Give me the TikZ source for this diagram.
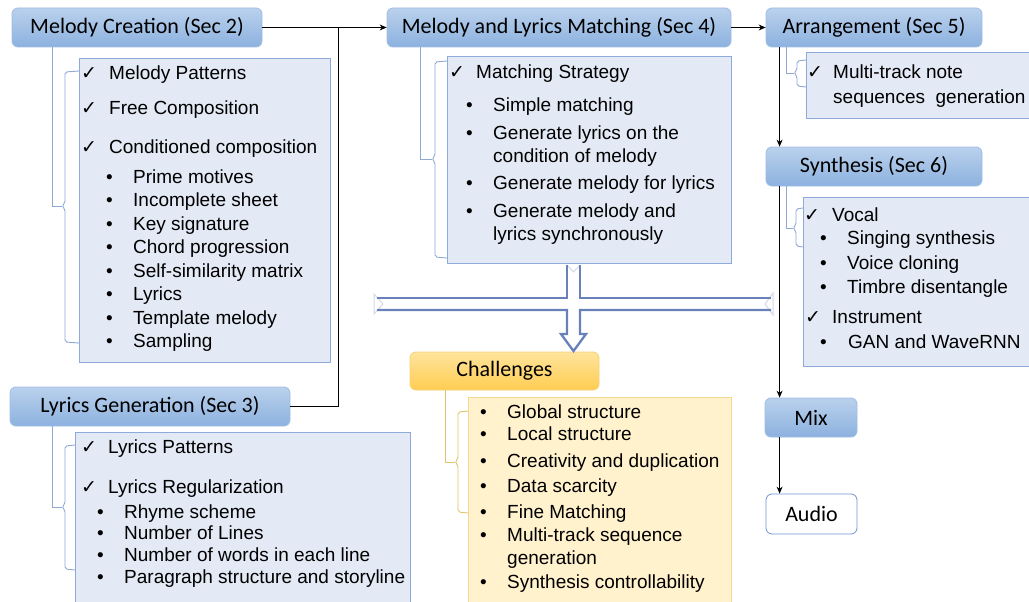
\documentclass[tikz,border=0pt]{standalone}
\usepackage{fontspec}
\setmainfont{Liberation Sans}
\newfontfamily\hdrfont{Carlito}
\newfontfamily\symfont{DejaVu Sans}
\usetikzlibrary{arrows.meta,calc}
\definecolor{hdrtop}{HTML}{BAD1EC}
\definecolor{hdrbot}{HTML}{8CB1DF}
\definecolor{hdrline}{HTML}{9FBDE5}
\definecolor{bodyfill}{HTML}{E3E9F5}
\definecolor{bodyline}{HTML}{8EAADB}
\definecolor{brcblue}{HTML}{8FA8D6}
\definecolor{chtop}{HTML}{FFE49C}
\definecolor{chbot}{HTML}{FFCD52}
\definecolor{chline}{HTML}{F6D37A}
\definecolor{chfill}{HTML}{FFF2CC}
\definecolor{chbody}{HTML}{F5D991}
\definecolor{brcgold}{HTML}{E2C46A}
\definecolor{dblue}{HTML}{6882B9}
\definecolor{notchc}{HTML}{D3DAE8}
\definecolor{audline}{HTML}{6F95D6}
\begin{document}
\begin{tikzpicture}[x=1pt,y=-1pt,
  hdr/.style={draw=hdrline, line width=0.8pt, rounded corners=6pt, top color=hdrtop, bottom color=hdrbot,
    font=\hdrfont\fontsize{22}{26}\selectfont, inner sep=0pt},
  chhdr/.style={hdr, draw=chline, top color=chtop, bottom color=chbot},
  body/.style={draw=bodyline, line width=0.8pt, fill=bodyfill, anchor=north west, inner sep=0pt},
  chbox/.style={body, draw=chbody, fill=chfill},
  item/.style={anchor=base west, inner sep=0pt, font=\fontsize{19}{22}\selectfont},
  bul/.style={anchor=base west, inner sep=0pt, font=\fontsize{19}{22}\selectfont},
  chk/.style={anchor=base west, inner sep=0pt, font=\symfont\bfseries\fontsize{19}{22}\selectfont},
  brc/.style={draw=brcblue, line width=0.9pt},
  brcg/.style={draw=brcgold, line width=0.9pt},
  conn/.style={draw=black, line width=0.9pt},
  arr/.style={conn, -{Stealth[length=7pt,width=6pt]}},
  dbl/.style={draw=dblue, line width=2.3pt},
  notch/.style={draw=notchc, line width=1pt}
]
\clip (0,0) rectangle (1029,602);
\fill[white] (0,0) rectangle (1029,602);

% ---------------- body boxes ----------------
\node[body, minimum width=251, minimum height=304] (mbox) at (79,58) {};
\node[body, minimum width=335, minimum height=190] (lbox) at (75,432) {};
\node[body, minimum width=284, minimum height=207] (mmbox) at (447,56) {};
\node[body, minimum width=240, minimum height=66] (abox) at (806,52) {};
\node[body, minimum width=240, minimum height=169] (sbox) at (803,197) {};
\node[chbox, minimum width=263, minimum height=220] (cbox) at (468,397) {};

% ---------------- headers ----------------
\node[hdr, minimum width=250, minimum height=39] (mc) at (137,27.5) {Melody Creation (Sec 2)};
\node[hdr, minimum width=280, minimum height=39] (lg) at (150,406.5) {Lyrics Generation (Sec 3)};
\node[hdr, minimum width=344, minimum height=39] (mm) at (559,27.5) {Melody and Lyrics Matching (Sec 4)};
\node[hdr, minimum width=216, minimum height=39] (ar) at (874,27.5) {Arrangement (Sec 5)};
\node[hdr, minimum width=216, minimum height=39] (sy) at (874,166.5) {Synthesis (Sec 6)};
\node[hdr, minimum width=92, minimum height=39] (mix) at (811,417.5) {Mix};
\node[hdr, draw=audline, top color=white, bottom color=white, minimum width=91, minimum height=40] (audio) at (811.5,514) {Audio};
\node[chhdr, minimum width=189, minimum height=38] (ch) at (504.5,371) {Challenges};

% ---------------- main connectors ----------------
\coordinate (j) at (338,27.5);
\draw[arr] (mc.east) -- (mm.west);
\draw[conn] (lg.east) -| (j);
\draw[arr] (mm.east) -- (ar.west);
\draw[arr] ($(ar.south west)+(14,0)$) -- ($(sy.north west)+(14,0)$);
\draw[arr] ($(sy.south west)+(14,0)$) -- ($(mix.north west)+(15,0)$);
\draw[arr] ($(mix.south west)+(15,0)$) -- ($(audio.north west)+(14,0)$);

% ---------------- braces ----------------
% melody creation
\coordinate (mcn) at (62,206);
\draw[brc] ($(mc.south west)+(41,0)$) |- (mcn);
\draw[brc, rounded corners=2pt] (mbox.west |- 0,71) -- (65,72) -- (65,203) -- (mcn) -- (65,209) -- (65,342) -- (mbox.west |- 0,343);
% lyrics generation
\coordinate (lgn) at (62,507);
\draw[brc] ($(lg.south west)+(43,0)$) |- (lgn);
\draw[brc, rounded corners=2pt] (lbox.west |- 0,445) -- (65,446) -- (65,504) -- (lgn) -- (65,510) -- (65,569) -- (lbox.west |- 0,570);
% matching
\coordinate (mmn) at (432,159);
\draw[brc] ($(mm.south west)+(34,0)$) |- (mmn);
\draw[brc, rounded corners=2pt] (mmbox.west |- 0,61) -- (435,62) -- (435,156) -- (mmn) -- (435,162) -- (435,257) -- (mmbox.west |- 0,258);
% arrangement
\coordinate (arn) at (794,73);
\draw[brc] ($(ar.south west)+(21,0)$) |- (arn);
\draw[brc, rounded corners=2pt] (abox.west |- 0,60) -- (797,61) -- (797,70) -- (arn) -- (797,76) -- (797,86) -- (abox.west |- 0,87);
% synthesis
\coordinate (syn) at (793,228);
\draw[brc] ($(sy.south west)+(21,0)$) |- (syn);
\draw[brc, rounded corners=2pt] (sbox.west |- 0,208) -- (796,209) -- (796,225) -- (syn) -- (796,231) -- (796,246) -- (sbox.west |- 0,247);
% challenges
\coordinate (chn) at (455,462);
\draw[brcg] ($(ch.south west)+(36,0)$) |- (chn);
\draw[brcg, rounded corners=2pt] (cbox.west |- 0,411) -- (458,412) -- (458,459) -- (chn) -- (458,465) -- (458,512) -- (cbox.west |- 0,513);

% ---------------- double arrow ----------------
\draw[notch] (374,294) -- (383,304) -- (374,314) -- cycle;
\draw[notch] (773,293) -- (765,304) -- (773,315) -- cycle;
\draw[notch] (567,265) -- (573.5,272) -- (580,265);
\draw[dbl] (567,265) -- (567,298) -- (377,298);
\draw[dbl] (377,310) -- (567,310) -- (567,334) -- (561,334) -- (573.5,351) -- (586,334) -- (580,334) -- (580,310) -- (771,310);
\draw[dbl] (771,298) -- (580,298) -- (580,265);

% ---------------- melody creation items ----------------
\node[chk] (mk1) at (81,73+6.5) {✓};
\node[item] (mt1) at (109,73+6.5) {Melody Patterns};
\node[chk] (mk2) at (81,108+6.5) {✓};
\node[item] (mt2) at (109,108+6.5) {Free Composition};
\node[chk] (mk3) at (81,147+6.5) {✓};
\node[item] (mt3) at (109,147+6.5) {Conditioned composition};
\foreach \t/\y [count=\i] in {Prime motives/177, Incomplete sheet/200, Key signature/224, Chord progression/247,
  Self-similarity matrix/271, Lyrics/294, Template melody/318, Sampling/341}{
  \node[bul] (mb\i) at (106,\y+6.5) {•};
  \node[item] (mbt\i) at (133,\y+6.5) {\t};
}

% ---------------- lyrics items ----------------
\node[chk] (lk1) at (81,447+6.5) {✓};
\node[item] (lt1) at (108,447+6.5) {Lyrics Patterns};
\node[chk] (lk2) at (81,487+6.5) {✓};
\node[item] (lt2) at (108,487+6.5) {Lyrics Regularization};
\foreach \t/\y [count=\i] in {Rhyme scheme/512, Number of Lines/533, Number of words in each line/555,
  Paragraph structure and storyline/577}{
  \node[bul] (lb\i) at (97,\y+6.5) {•};
  \node[item] (lbt\i) at (124,\y+6.5) {\t};
}

% ---------------- matching items ----------------
\node[chk] (qk1) at (449,72+6.5) {✓};
\node[item] (qt1) at (476,72+6.5) {Matching Strategy};
\foreach \y [count=\i] in {105,133,183,211}{
  \node[bul] (qb\i) at (466,\y+6.5) {•};
}
\node[item] (qbt1) at (493,105+6.5) {Simple matching};
\node[item] (qbt2) at (493,133+6.5) {Generate lyrics on the};
\node[item] (qbt2b) at (493,156+6.5) {condition of melody};
\node[item] (qbt3) at (493,183+6.5) {Generate melody for lyrics};
\node[item] (qbt4) at (493,211+6.5) {Generate melody and};
\node[item] (qbt4b) at (493,234+6.5) {lyrics synchronously};

% ---------------- arrangement items ----------------
\node[chk] (ak1) at (807,72+6.5) {✓};
\node[item] (at1) at (833,72+6.5) {Multi-track note};
\node[item] (at2) at (833,97+6.5) {sequences\ \ generation};

% ---------------- synthesis items ----------------
\node[chk] (sk1) at (804,215+6.5) {✓};
\node[item] (st1) at (832,215+6.5) {Vocal};
\foreach \t/\y [count=\i] in {Singing synthesis/238, Voice cloning/263, Timbre disentangle/287}{
  \node[bul] (sb\i) at (820,\y+6.5) {•};
  \node[item] (sbt\i) at (847,\y+6.5) {\t};
}
\node[chk] (sk2) at (805,317+6.5) {✓};
\node[item] (st2) at (832,317+6.5) {Instrument};
\node[bul] (sb4) at (820,342+6.5) {•};
\node[item] (sbt4) at (848,342+6.5) {GAN and WaveRNN};

% ---------------- challenges items ----------------
\foreach \y [count=\i] in {412,434,461,486,512,535,582}{
  \node[bul] (cb\i) at (480,\y+6.5) {•};
}
\node[item] (ct1) at (507,412+6.5) {Global structure};
\node[item] (ct2) at (507,434+6.5) {Local structure};
\node[item] (ct3) at (507,461+6.5) {Creativity and duplication};
\node[item] (ct4) at (507,486+6.5) {Data scarcity};
\node[item] (ct5) at (507,512+6.5) {Fine Matching};
\node[item] (ct6) at (507,535+6.5) {Multi-track sequence};
\node[item] (ct6b) at (507,558+6.5) {generation};
\node[item] (ct7) at (507,582+6.5) {Synthesis controllability};
\end{tikzpicture}
\end{document}
